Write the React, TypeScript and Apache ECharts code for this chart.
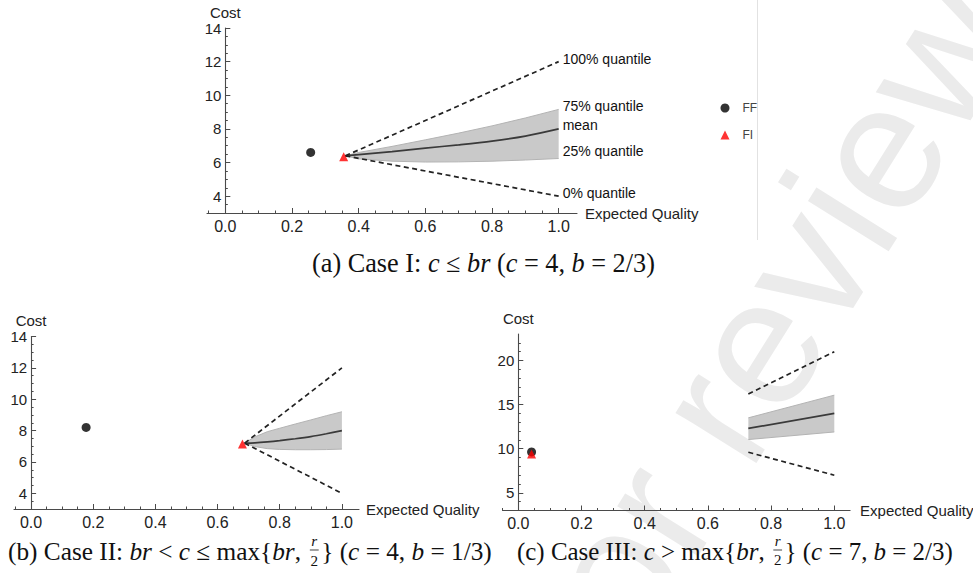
import React, { useEffect, useRef } from "react";
import * as echarts from "echarts";

// ---------------- data ----------------
const xTicks = [0, 0.2, 0.4, 0.6, 0.8, 1.0];
const xMinorTicks = [-0.05, 0.05, 0.1, 0.15, 0.25, 0.3, 0.35, 0.45, 0.5, 0.55, 0.65, 0.7, 0.75, 0.85, 0.9, 0.95];
const yTicksAB = [4, 6, 8, 10, 12, 14];
const yMinorAB = [3.5, 4.5, 5, 5.5, 6.5, 7, 7.5, 8.5, 9, 9.5, 10.5, 11, 11.5, 12.5, 13, 13.5];
const yTicksC = [5, 10, 15, 20];
const yMinorC = [4, 6, 7, 8, 9, 11, 12, 13, 14, 16, 17, 18, 19, 21, 22];

// Case I (c = 4, b = 2/3)
const caseA_quality = [0.36, 0.4, 0.5, 0.6, 0.7, 0.8, 0.9, 1.0];
const caseA_mean = [6.4, 6.47, 6.65, 6.86, 7.05, 7.27, 7.57, 8.0];
const caseA_q75 = [6.4, 6.6, 6.96, 7.35, 7.75, 8.18, 8.65, 9.16];
const caseA_q25 = [6.4, 6.22, 6.08, 6.03, 6.04, 6.08, 6.15, 6.24];
const caseA_edgeQuality = [0.36, 1.0];
const caseA_q100 = [6.4, 12.0];
const caseA_q0 = [6.4, 4.0];
const caseA_FF = [0.256, 6.6];
const caseA_FI = [0.355, 6.35];

// Case II (c = 4, b = 1/3)
const caseB_quality = [0.687, 0.72, 0.76, 0.8, 0.85, 0.9, 0.95, 1.0];
const caseB_mean = [7.2, 7.22, 7.28, 7.36, 7.48, 7.62, 7.8, 8.0];
const caseB_q75 = [7.2, 7.6, 7.93, 8.15, 8.42, 8.68, 8.95, 9.2];
const caseB_q25 = [7.2, 6.98, 6.85, 6.8, 6.78, 6.78, 6.79, 6.82];
const caseB_edgeQuality = [0.687, 1.0];
const caseB_q100 = [7.2, 12.0];
const caseB_q0 = [7.2, 4.0];
const caseB_FF = [0.177, 8.2];
const caseB_FI = [0.68, 7.15];

// Case III (c = 7, b = 2/3)
const caseC_quality = [0.728, 1.0];
const caseC_mean = [12.3, 14.0];
const caseC_q75 = [13.5, 16.07];
const caseC_q25 = [11.04, 11.9];
const caseC_edgeQuality = [0.728, 1.0];
const caseC_q100 = [16.2, 21.0];
const caseC_q0 = [9.6, 7.0];
const caseC_FF = [0.042, 9.64];
const caseC_FI = [0.042, 9.4];

const quantileLabels = ["100% quantile", "75% quantile", "mean", "25% quantile", "0% quantile"];
const legendNames = ["FF", "FI"];

// ---------------- styling ----------------
const SANS = "Liberation Sans";
const SERIF = "Liberation Serif";
const AXIS_COLOR = "#4a4a4a";
const TEXT_COLOR = "#222";

type Seg = { t?: string; it?: boolean; frac?: [string, string] };
const captionA: Seg[] = [
  { t: "(a) Case I: " }, { t: "c", it: true }, { t: " ≤ " }, { t: "br", it: true },
  { t: " (" }, { t: "c", it: true }, { t: " = 4, " }, { t: "b", it: true }, { t: " = 2/3)" },
];
const captionB: Seg[] = [
  { t: "(b) Case II: " }, { t: "br", it: true }, { t: " < " }, { t: "c", it: true },
  { t: " ≤ max{" }, { t: "br", it: true }, { t: ", " }, { frac: ["r", "2"] }, { t: "} (" },
  { t: "c", it: true }, { t: " = 4, " }, { t: "b", it: true }, { t: " = 1/3)" },
];
const captionC: Seg[] = [
  { t: "(c) Case III: " }, { t: "c", it: true }, { t: " > max{" }, { t: "br", it: true },
  { t: ", " }, { frac: ["r", "2"] }, { t: "} (" }, { t: "c", it: true }, { t: " = 7, " },
  { t: "b", it: true }, { t: " = 2/3)" },
];

let ctx: CanvasRenderingContext2D | null = null;
function tw(text: string, size: number, italic: boolean, family: string) {
  if (!ctx) ctx = document.createElement("canvas").getContext("2d");
  ctx!.font = `${italic ? "italic " : ""}${size}px "${family}"`;
  return ctx!.measureText(text).width;
}

function txt(x: number, y: number, text: string, size: number, italic: boolean, align: string, family = SERIF, fill = "#111") {
  return {
    type: "text", x, y, z: 10, silent: true,
    style: {
      text, fontSize: size, fontFamily: family, fontStyle: italic ? "italic" : "normal",
      fill, align, textAlign: align, verticalAlign: "middle", textVerticalAlign: "middle",
    },
  };
}

function buildCaption(segs: Seg[], left: number, width: number, cy: number) {
  const FR = 0.6;
  const measure = (s: Seg, size: number) =>
    s.frac
      ? Math.max(tw(s.frac[0], size * FR, true, SERIF), tw(s.frac[1], size * FR, false, SERIF)) + size * 0.25
      : tw(s.t!, size, !!s.it, SERIF);
  const base = 20;
  const total = segs.reduce((a, s) => a + measure(s, base), 0);
  const size = (base * width) / total;
  let x = left;
  const els: any[] = [];
  segs.forEach((s) => {
    const w = measure(s, size);
    if (s.frac) {
      const cx = x + w / 2;
      els.push(txt(cx, cy - size * 0.42, s.frac[0], size * FR, true, "center"));
      els.push({
        type: "line", z: 10, silent: true,
        shape: { x1: x + size * 0.1, y1: cy - size * 0.04, x2: x + w - size * 0.1, y2: cy - size * 0.04 },
        style: { stroke: "#111", lineWidth: 0.8 },
      });
      els.push(txt(cx, cy + size * 0.36, s.frac[1], size * FR, false, "center"));
    } else {
      const t = s.t!;
      const lead = t.length - t.trimStart().length;
      const off = lead ? tw(t.slice(0, lead), size, !!s.it, SERIF) : 0;
      const body = t.trim();
      if (body) els.push(txt(x + off, cy, body, size, !!s.it, "left"));
    }
    x += w;
  });
  return els;
}

function buildWatermark() {
  const F = 180;
  const word = "for review";
  const theta = (58 * Math.PI) / 180;
  const off = tw("for r", F, false, SANS) + tw("e", F, false, SANS) / 2;
  const cx = 755, cy = 347;
  return {
    type: "text", z: -100, silent: true,
    x: cx - off * Math.cos(theta), y: cy + off * Math.sin(theta), rotation: theta,
    style: {
      text: word, fontSize: F, fontFamily: SANS, fill: "#ebebeb",
      align: "left", textAlign: "left", verticalAlign: "middle", textVerticalAlign: "middle",
    },
  };
}

// ---------------- axes ----------------
const grids = [
  { left: 207, top: 28, width: 370, height: 185 },
  { left: 14, top: 336.5, width: 345, height: 172.5 },
  { left: 502.5, top: 334, width: 347.6, height: 176.5 },
];
const xRanges = [[-0.055, 1.055], [-0.055, 1.055], [-0.05, 1.05]];
const yRanges = [[3, 14], [3, 14], [3, 23]];
const xNameGaps = [8, 7, 10];
const yNameGaps = [16, 16.5, 16];

// y axis sits where x = 0 (offset inward from the grid's left edge)
function zeroOffset(gi: number) {
  const [a, b] = xRanges[gi];
  return -((0 - a) / (b - a)) * grids[gi].width;
}

function mainX(gi: number) {
  return {
    type: "value", gridIndex: gi, min: xRanges[gi][0], max: xRanges[gi][1],
    name: "Expected Quality", nameLocation: "end", nameGap: xNameGaps[gi],
    nameTextStyle: { fontFamily: SANS, fontSize: 15, color: TEXT_COLOR, align: "left", verticalAlign: "middle" },
    axisLine: { show: true, onZero: false, lineStyle: { color: AXIS_COLOR, width: 1.1 } },
    axisTick: { show: true, inside: true, length: 5, customValues: xTicks, lineStyle: { color: AXIS_COLOR } },
    axisLabel: { show: true, customValues: xTicks, margin: 5, formatter: (v: number) => v.toFixed(1), fontFamily: SANS, fontSize: 16, color: TEXT_COLOR },
    splitLine: { show: false },
  };
}
function minorX(gi: number) {
  return {
    type: "value", gridIndex: gi + 3, min: xRanges[gi][0], max: xRanges[gi][1],
    axisLine: { show: false, onZero: false },
    axisTick: { show: true, inside: true, length: 2.5, customValues: xMinorTicks, lineStyle: { color: AXIS_COLOR } },
    axisLabel: { show: false }, splitLine: { show: false },
  };
}
function mainY(gi: number) {
  const ticks = gi === 2 ? yTicksC : yTicksAB;
  return {
    type: "value", gridIndex: gi, min: yRanges[gi][0], max: yRanges[gi][1],
    position: "left", offset: zeroOffset(gi),
    name: "Cost", nameLocation: "end", nameGap: yNameGaps[gi],
    nameTextStyle: { fontFamily: SANS, fontSize: 15, color: TEXT_COLOR, align: "center", verticalAlign: "middle" },
    axisLine: { show: true, onZero: false, lineStyle: { color: AXIS_COLOR, width: 1.1 } },
    axisTick: { show: true, inside: true, length: 5, customValues: ticks, lineStyle: { color: AXIS_COLOR } },
    axisLabel: { show: true, customValues: ticks, margin: 4, fontFamily: SANS, fontSize: 15, color: TEXT_COLOR },
    splitLine: { show: false },
  };
}
function minorY(gi: number) {
  return {
    type: "value", gridIndex: gi + 3, min: yRanges[gi][0], max: yRanges[gi][1],
    position: "left", offset: zeroOffset(gi),
    axisLine: { show: false, onZero: false },
    axisTick: { show: true, inside: true, length: 2.5, customValues: gi === 2 ? yMinorC : yMinorAB, lineStyle: { color: AXIS_COLOR } },
    axisLabel: { show: false }, splitLine: { show: false },
  };
}

// ---------------- series ----------------
function zip(xs: number[], ys: number[]) {
  return xs.map((x, i) => [x, ys[i]]);
}
function band(gi: number, xs: number[], lo: number[], hi: number[]) {
  return {
    type: "custom", xAxisIndex: gi, yAxisIndex: gi, z: 1, silent: true,
    data: xs.map((x, i) => [x, lo[i], hi[i]]),
    renderItem: (params: any, api: any) => {
      if (params.dataIndex !== 0) return null;
      const pts: number[][] = [];
      xs.forEach((x, i) => pts.push(api.coord([x, hi[i]])));
      for (let i = xs.length - 1; i >= 0; i--) pts.push(api.coord([xs[i], lo[i]]));
      return { type: "polygon", shape: { points: pts }, style: { fill: "#c9c9c9" } };
    },
  };
}
function line(gi: number, name: string, xs: number[], ys: number[], kind: "edge" | "mean" | "dash", label?: { text: string; dy: number }) {
  const lineStyle =
    kind === "edge" ? { color: "#b3b3b3", width: 1 }
    : kind === "mean" ? { color: "#3a3a3a", width: 1.7 }
    : { color: "#222", width: 1.7, type: [5, 3.5] };
  return {
    type: "line", name, xAxisIndex: gi, yAxisIndex: gi, data: zip(xs, ys),
    showSymbol: false, symbol: "none", silent: true, smooth: kind === "mean" ? 0.3 : false,
    z: kind === "edge" ? 2 : 3, lineStyle,
    endLabel: label
      ? { show: true, formatter: label.text, distance: 4, offset: [0, label.dy], fontFamily: SANS, fontSize: 14, color: "#111" }
      : { show: false },
  };
}
function points(gi: number, ff: number[], fi: number[]) {
  return [
    { type: "scatter", name: "FF", xAxisIndex: gi, yAxisIndex: gi, data: [ff], symbol: "circle", symbolSize: 9, itemStyle: { color: "#000" }, z: 5, silent: true },
    { type: "scatter", name: "FI", xAxisIndex: gi, yAxisIndex: gi, data: [fi], symbol: "triangle", symbolSize: 9, itemStyle: { color: "#ff0000" }, z: 6, silent: true },
  ];
}

function caseSeries(gi: number, q: number[], mean: number[], q75: number[], q25: number[], eq: number[], q100: number[], q0: number[], ff: number[], fi: number[], labelled: boolean) {
  const L = (i: number, dy: number) => (labelled ? { text: quantileLabels[i], dy } : undefined);
  return [
    band(gi, q, q25, q75),
    line(gi, "q75", q, q75, "edge", L(1, -3)),
    line(gi, "q25", q, q25, "edge", L(3, -8)),
    line(gi, "mean", q, mean, "mean", L(2, -4)),
    line(gi, "q100", eq, q100, "dash", L(0, -3)),
    line(gi, "q0", eq, q0, "dash", L(4, -3)),
    ...points(gi, ff, fi),
  ];
}

function buildOption() {
  const g = grids.map((r) => ({ ...r, containLabel: false, outerBoundsMode: "none" }));
  return {
    animation: false,
    backgroundColor: "#fff",
    grid: [...g, ...g],
    xAxis: [0, 1, 2].map(mainX).concat([0, 1, 2].map(minorX) as any),
    yAxis: [0, 1, 2].map(mainY).concat([0, 1, 2].map(minorY) as any),
    legend: {
      data: [{ name: legendNames[0], icon: "circle" }, { name: legendNames[1], icon: "triangle" }],
      orient: "vertical", left: 715.5, top: 96, itemWidth: 9, itemHeight: 9, itemGap: 13,
      selectedMode: false,
      textStyle: { fontFamily: SANS, fontSize: 12, color: "#444", lineHeight: 14, padding: [0, 0, 0, 8] },
    },
    series: [
      ...caseSeries(0, caseA_quality, caseA_mean, caseA_q75, caseA_q25, caseA_edgeQuality, caseA_q100, caseA_q0, caseA_FF, caseA_FI, true),
      ...caseSeries(1, caseB_quality, caseB_mean, caseB_q75, caseB_q25, caseB_edgeQuality, caseB_q100, caseB_q0, caseB_FF, caseB_FI, false),
      ...caseSeries(2, caseC_quality, caseC_mean, caseC_q75, caseC_q25, caseC_edgeQuality, caseC_q100, caseC_q0, caseC_FF, caseC_FI, false),
    ],
    graphic: [
      buildWatermark(),
      { type: "line", z: -50, silent: true, shape: { x1: 757.5, y1: 0, x2: 757.5, y2: 240 }, style: { stroke: "#e2e2e2", lineWidth: 1 } },
      ...buildCaption(captionA, 312, 343, 263),
      ...buildCaption(captionB, 8, 484, 551),
      ...buildCaption(captionC, 517, 436, 551),
    ],
  };
}

export default function App() {
  const ref = useRef<HTMLDivElement>(null);
  useEffect(() => {
    if (!ref.current) return;
    const chart = echarts.init(ref.current, null, { renderer: "svg" });
    chart.setOption(buildOption() as any);
    return () => chart.dispose();
  }, []);
  return (
    <div
      ref={ref}
      style={{ position: "absolute", left: 0, top: 0, width: 973, height: 573, background: "#fff" }}
    />
  );
}
